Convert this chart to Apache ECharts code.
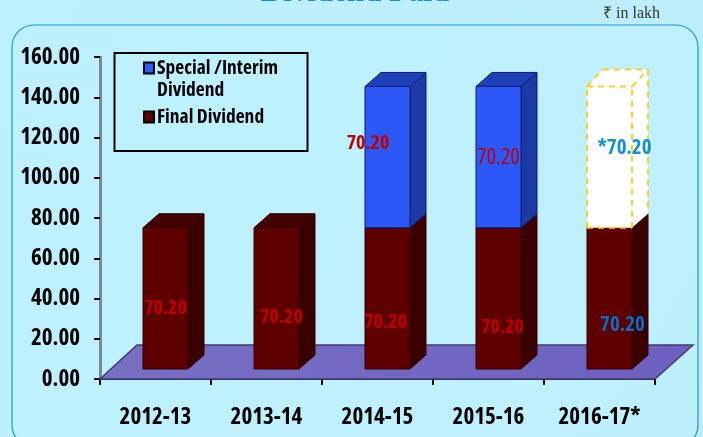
<!DOCTYPE html>
<html><head><meta charset="utf-8">
<style>html,body{margin:0;padding:0;background:#BDF0FD;overflow:hidden}#c{width:703px;height:437px}</style>
<script src="https://cdn.jsdelivr.net/npm/echarts@6/dist/echarts.min.js"></script>
</head><body><div id="c"></div>
<script>
const categories = ['2012-13','2013-14','2014-15','2015-16','2016-17*'];
const finalDividend = [70.2,70.2,70.2,70.2,70.2];
const specialDividend = [null,null,70.2,70.2,null];
const proposedDividend = [null,null,null,null,70.2];
const yTicks = {min:0,max:160,interval:20};
const FAMILY = '"Open Sans","Liberation Sans",sans-serif';
const BOLD = 'bold condensed';

// styling of the hand-placed value labels: pixel offset from the front-face centre of each segment
const finalLabelOffsets = [[0,9.5],[5,19],[-2,23.5],[4,28.5],[13,26.5]];
const finalLabelStyles = [
 {fill:'#C00000',weight:BOLD,size:20},{fill:'#C00000',weight:BOLD,size:20},{fill:'#C00000',weight:BOLD,size:20},{fill:'#C00000',weight:BOLD,size:20},{fill:'#0A6BC4',weight:BOLD,size:21}];
const upperLabelOffsets = [null,null,[-19.5,-14],[0,1],[15,-9.5]];
const upperLabelStyles = [null,null,{fill:'#C00000',weight:BOLD,size:20},{fill:'#C00000',weight:'normal condensed',size:22},{fill:'#0E94D4',weight:BOLD,size:21,prefix:'*'}];

const DX=16, DY=14, FX=10, FY=10, W=45;

function labelText(text,x,y,st){
  return {type:'text',z2:30,style:{text:(st.prefix||'')+text,x,y,align:'center',verticalAlign:'middle',font:st.weight+' '+st.size+'px '+FAMILY,fill:st.fill}};
}
function barRender(colors,labelOffsets,labelStyles,dashed){
  const rise=dashed?3:0;
  return function(params,api){
    const i=api.value(0), lo=api.value(1), hi=api.value(2);
    if(hi==null||isNaN(hi)) return;
    const b=api.coord([i,lo]), t=api.coord([i,hi]);
    const x0=b[0]+FX-W/2, x1=x0+W, yb=b[1]-FY, yt=t[1]-FY, ytb=yt-DY-rise;
    const line={stroke:colors.edge,lineWidth:2,lineDash:[6,5]};
    const kids=[
      {type:'polygon',shape:{points:[[x1,yb],[x1+DX,yb-DY],[x1+DX,ytb],[x1,yt]]},style:{fill:colors.side,stroke:dashed?null:colors.edge,lineWidth:1}},
      {type:'polygon',shape:{points:[[x0,yt],[x1,yt],[x1+DX,ytb],[x0+DX,ytb]]},style:{fill:colors.top,stroke:dashed?null:colors.edge,lineWidth:1}},
      {type:'rect',shape:{x:x0,y:yt,width:W,height:yb-yt},style:{fill:colors.front,stroke:dashed?null:colors.edge,lineWidth:1}}
    ];
    if(dashed){
      [[x0,yb,x0,yt],[x1,yb,x1,yt],[x0,yb,x1,yb],[x0,yt,x1,yt],[x1,yt,x1+DX,ytb],[x0,yt,x0+DX,ytb],[x0+DX,ytb,x1+DX,ytb],[x1+DX,ytb,x1+DX,yb-DY]].forEach(p=>{
        kids.push({type:'line',shape:{x1:p[0],y1:p[1],x2:p[2],y2:p[3]},style:line});
      });
    }
    const off=labelOffsets[i], st=labelStyles[i];
    if(off) kids.push(labelText((hi-lo).toFixed(2),(x0+x1)/2+off[0],(yb+yt)/2+off[1],st));
    return {type:'group',children:kids};
  };
}
function segs(vals,under){
  return vals.map((v,i)=>{
    const lo=under?(under[i]||0):0;
    return v==null?[i,lo,null]:[i,lo,lo+v];
  });
}
const floorRender=function(params,api){
  const a=api.coord([0,0]), s=api.size([1,0]);
  const xl=a[0]-s[0]/2, xr=xl+s[0]*categories.length, y=a[1];
  return {type:'polygon',z2:0,shape:{points:[[xl,y],[xr,y],[xr+38,y-34],[xl+37,y-34]]},
    style:{fill:{type:'linear',x:0,y:0,x2:1,y2:0,colorStops:[{offset:0,color:'#7770C4'},{offset:1,color:'#6D60C0'}]},stroke:'#3F3B70',lineWidth:1.5}};
};
const colFinal={front:'#5E0000',side:'#3A0000',top:'#440000',edge:'#330000'};
const colSpecial={front:'#2B58F6',side:'#1C3AA6',top:'#1E40B8',edge:'#0A1F70'};
const colProposed={front:'#FFFFFF',side:'#FFFFFF',top:'#FFFFFF',edge:'#FFCC22'};
const legendText={fontFamily:FAMILY,fontWeight:BOLD,fontSize:19.5,color:'#000',lineHeight:22,padding:[0,0,0,-2]};

const chart=echarts.init(document.getElementById('c'),null,{renderer:'canvas'});
chart.setOption({
  animation:false,
  backgroundColor:{type:'linear',x:0,y:0,x2:1,y2:1,colorStops:[{offset:0,color:'#BDF1FE'},{offset:1,color:'#BEECFA'}]},
  graphic:[
    {type:'rect',z:0,shape:{x:12,y:25,width:686,height:422,r:22},style:{fill:'rgba(190,242,255,0.6)',stroke:'#1796D8',lineWidth:1.2}},
    {type:'text',z:1,style:{text:'Dividend Paid',x:355,y:-7,align:'center',verticalAlign:'middle',font:'bold 31px "Liberation Serif",serif',fill:'#0E94D4'}},
    {type:'text',z:1,style:{text:'₹ in lakh',x:603,y:14,align:'left',verticalAlign:'middle',font:'16px "Liberation Serif",serif',fill:'#333'}},
    {type:'rect',z:1,shape:{x:114.5,y:53,width:193,height:98},style:{fill:'transparent',stroke:'#000',lineWidth:2}}
  ],
  legend:[
    {left:143,top:57,orient:'vertical',itemWidth:10,itemHeight:33,padding:0,selectedMode:false,
     data:[{name:'Special /Interim\nDividend',icon:'path://M0,0H10V11H0Z M0,33L0,33'}],textStyle:legendText},
    {left:143,top:106,orient:'vertical',itemWidth:10,itemHeight:11,padding:0,selectedMode:false,
     data:[{name:'Final Dividend',icon:'rect'}],textStyle:legendText}
  ],
  grid:{left:100,right:48,top:57,bottom:58,containLabel:false},
  xAxis:{type:'category',data:categories,boundaryGap:true,
    axisLine:{show:true,lineStyle:{color:'#2E2A55',width:2}},
    axisTick:{show:true,alignWithLabel:false,length:6,lineStyle:{color:'#000',width:2}},
    axisLabel:{color:'#000',fontFamily:FAMILY,fontWeight:BOLD,fontSize:23,margin:27,interval:0,hideOverlap:false},
    splitLine:{show:false}},
  yAxis:{type:'value',min:yTicks.min,max:yTicks.max,interval:yTicks.interval,
    axisLine:{show:true,lineStyle:{color:'#78898F',width:3}},
    axisTick:{show:true,length:6,lineStyle:{color:'#000',width:2}},
    axisLabel:{color:'#000',fontFamily:FAMILY,fontWeight:BOLD,fontSize:23,margin:20,padding:[3,0,0,0],hideOverlap:false,formatter:v=>v.toFixed(2)},
    splitLine:{show:false}},
  series:[
    {name:'Floor',type:'custom',z:1,silent:true,renderItem:floorRender,data:[[0]],encode:{x:0},clip:false},
    {name:'Special /Interim\nDividend',type:'custom',z:3,clip:false,itemStyle:{color:colSpecial.front,borderColor:'#000',borderWidth:2},
      renderItem:barRender(colSpecial,upperLabelOffsets,upperLabelStyles,false),data:segs(specialDividend,finalDividend),encode:{x:0,y:[1,2]}},
    {name:'Proposed',type:'custom',z:3,clip:false,
      renderItem:barRender(colProposed,upperLabelOffsets,upperLabelStyles,true),data:segs(proposedDividend,finalDividend),encode:{x:0,y:[1,2]}},
    {name:'Final Dividend',type:'custom',z:2,clip:false,itemStyle:{color:colFinal.front,borderColor:'#000',borderWidth:2},
      renderItem:barRender(colFinal,finalLabelOffsets,finalLabelStyles,false),data:segs(finalDividend),encode:{x:0,y:[1,2]}}
  ]
});
</script></body></html>
